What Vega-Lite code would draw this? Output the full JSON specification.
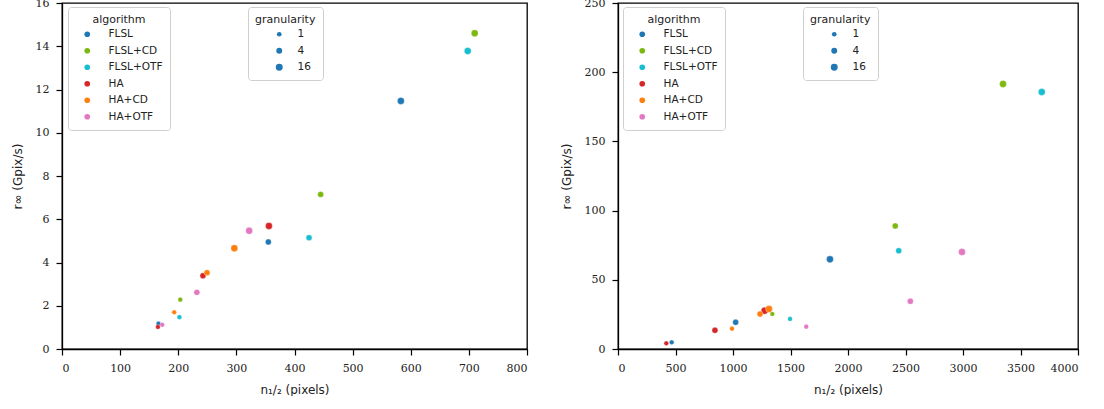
{
  "$schema": "https://vega.github.io/schema/vega-lite/v6.json",
  "padding": {"left": 10, "top": -4, "right": 5, "bottom": 0},
  "background": "white",
  "datasets": {
    "left": [
      {"algorithm": "FLSL", "granularity": 1, "n_half": 166, "r_inf": 1.17},
      {"algorithm": "FLSL", "granularity": 4, "n_half": 355, "r_inf": 4.95},
      {"algorithm": "FLSL", "granularity": 16, "n_half": 583, "r_inf": 11.47},
      {"algorithm": "FLSL+CD", "granularity": 1, "n_half": 203.5, "r_inf": 2.28},
      {"algorithm": "FLSL+CD", "granularity": 4, "n_half": 445, "r_inf": 7.15},
      {"algorithm": "FLSL+CD", "granularity": 16, "n_half": 710, "r_inf": 14.6},
      {"algorithm": "FLSL+OTF", "granularity": 1, "n_half": 202, "r_inf": 1.47},
      {"algorithm": "FLSL+OTF", "granularity": 4, "n_half": 425, "r_inf": 5.15},
      {"algorithm": "FLSL+OTF", "granularity": 16, "n_half": 698, "r_inf": 13.78},
      {"algorithm": "HA", "granularity": 1, "n_half": 165, "r_inf": 1.02},
      {"algorithm": "HA", "granularity": 4, "n_half": 242.5, "r_inf": 3.39},
      {"algorithm": "HA", "granularity": 16, "n_half": 356, "r_inf": 5.69},
      {"algorithm": "HA+CD", "granularity": 1, "n_half": 193, "r_inf": 1.7},
      {"algorithm": "HA+CD", "granularity": 4, "n_half": 249.5, "r_inf": 3.53},
      {"algorithm": "HA+CD", "granularity": 16, "n_half": 296.5, "r_inf": 4.66},
      {"algorithm": "HA+OTF", "granularity": 1, "n_half": 172.5, "r_inf": 1.12},
      {"algorithm": "HA+OTF", "granularity": 4, "n_half": 232, "r_inf": 2.62},
      {"algorithm": "HA+OTF", "granularity": 16, "n_half": 322, "r_inf": 5.47}
    ],
    "right": [
      {"algorithm": "FLSL", "granularity": 1, "n_half": 467, "r_inf": 4.8},
      {"algorithm": "FLSL", "granularity": 4, "n_half": 1023, "r_inf": 19.3},
      {"algorithm": "FLSL", "granularity": 16, "n_half": 1843, "r_inf": 64.8},
      {"algorithm": "FLSL+CD", "granularity": 1, "n_half": 1342, "r_inf": 25.3},
      {"algorithm": "FLSL+CD", "granularity": 4, "n_half": 2411, "r_inf": 88.9},
      {"algorithm": "FLSL+CD", "granularity": 16, "n_half": 3348, "r_inf": 191.5},
      {"algorithm": "FLSL+OTF", "granularity": 1, "n_half": 1496, "r_inf": 21.7},
      {"algorithm": "FLSL+OTF", "granularity": 4, "n_half": 2441, "r_inf": 71},
      {"algorithm": "FLSL+OTF", "granularity": 16, "n_half": 3685, "r_inf": 185.7},
      {"algorithm": "HA", "granularity": 1, "n_half": 420, "r_inf": 4.1},
      {"algorithm": "HA", "granularity": 4, "n_half": 843, "r_inf": 13.5},
      {"algorithm": "HA", "granularity": 16, "n_half": 1275, "r_inf": 27.7},
      {"algorithm": "HA+CD", "granularity": 1, "n_half": 991, "r_inf": 14.7},
      {"algorithm": "HA+CD", "granularity": 4, "n_half": 1235, "r_inf": 25.3},
      {"algorithm": "HA+CD", "granularity": 16, "n_half": 1313, "r_inf": 28.9},
      {"algorithm": "HA+OTF", "granularity": 1, "n_half": 1637, "r_inf": 16.1},
      {"algorithm": "HA+OTF", "granularity": 4, "n_half": 2542, "r_inf": 34.5},
      {"algorithm": "HA+OTF", "granularity": 16, "n_half": 2991, "r_inf": 70.1}
    ]
  },
  "spacing": 91,
  "bounds": "flush",
  "resolve": {
    "scale": {"color": "independent", "size": "independent", "x": "independent", "y": "independent"},
    "legend": {"color": "independent", "size": "independent"}
  },
  "hconcat": [
    {
      "width": 465,
      "height": 346,
      "data": {"name": "left"},
      "mark": {"type": "point", "filled": true, "opacity": 1, "stroke": "white", "strokeWidth": 0.3, "strokeOpacity": 1},
      "encoding": {
        "x": {"field": "n_half", "type": "quantitative", "title": "n₁/₂ (pixels)",
              "scale": {"domain": [0, 800], "nice": false},
              "axis": {"values": [0, 100, 200, 300, 400, 500, 600, 700, 800], "format": "d"}},
        "y": {"field": "r_inf", "type": "quantitative", "title": "r∞ (Gpix/s)",
              "scale": {"domain": [0, 16], "nice": false},
              "axis": {"values": [0, 2, 4, 6, 8, 10, 12, 14, 16], "format": "d"}},
        "color": {"field": "algorithm", "type": "nominal",
                  "scale": {"domain": ["FLSL", "FLSL+CD", "FLSL+OTF", "HA", "HA+CD", "HA+OTF"],
                            "range": ["#1f77b4", "#7cb80f", "#17becf", "#d62728", "#ff7f0e", "#e377c2"]},
                  "legend": {"orient": "none", "legendX": 6, "legendY": 4, "titleAnchor": "middle",
                             "symbolSize": 32, "symbolOffset": 7, "labelOffset": 16,
                             "labelExpr": "datum.label + '\u00a0\u00a0\u00a0\u00a0\u00a0\u00a0\u00a0'"}},
        "size": {"field": "granularity", "type": "ordinal",
                 "scale": {"domain": [1, 4, 16], "range": [22, 48, 110]},
                 "legend": {"orient": "none", "legendX": 186, "legendY": 4, "titleAnchor": "start",
                            "symbolOffset": 19, "labelOffset": 13, "symbolFillColor": "#1f77b4",
                            "labelExpr": "datum.label + '\u00a0\u00a0\u00a0\u00a0\u00a0\u00a0'"}}
      }
    },
    {
      "width": 460,
      "height": 346,
      "data": {"name": "right"},
      "mark": {"type": "point", "filled": true, "opacity": 1, "stroke": "white", "strokeWidth": 0.3, "strokeOpacity": 1},
      "encoding": {
        "x": {"field": "n_half", "type": "quantitative", "title": "n₁/₂ (pixels)",
              "scale": {"domain": [0, 4000], "nice": false},
              "axis": {"values": [0, 500, 1000, 1500, 2000, 2500, 3000, 3500, 4000], "format": "d"}},
        "y": {"field": "r_inf", "type": "quantitative", "title": "r∞ (Gpix/s)",
              "scale": {"domain": [0, 250], "nice": false},
              "axis": {"values": [0, 50, 100, 150, 200, 250], "format": "d"}},
        "color": {"field": "algorithm", "type": "nominal",
                  "scale": {"domain": ["FLSL", "FLSL+CD", "FLSL+OTF", "HA", "HA+CD", "HA+OTF"],
                            "range": ["#1f77b4", "#7cb80f", "#17becf", "#d62728", "#ff7f0e", "#e377c2"]},
                  "legend": {"orient": "none", "legendX": 5, "legendY": 4, "titleAnchor": "middle",
                             "symbolSize": 32, "symbolOffset": 7, "labelOffset": 16,
                             "labelExpr": "datum.label + '\u00a0\u00a0\u00a0\u00a0\u00a0\u00a0\u00a0'"}},
        "size": {"field": "granularity", "type": "ordinal",
                 "scale": {"domain": [1, 4, 16], "range": [22, 48, 110]},
                 "legend": {"orient": "none", "legendX": 185, "legendY": 4, "titleAnchor": "start",
                            "symbolOffset": 19, "labelOffset": 13, "symbolFillColor": "#1f77b4",
                            "labelExpr": "datum.label + '\u00a0\u00a0\u00a0\u00a0\u00a0\u00a0'"}}
      }
    }
  ],
  "config": {
    "view": {"stroke": "black", "strokeWidth": 1.3},
    "axis": {
      "grid": false,
      "domainColor": "black",
      "domainWidth": 1.3,
      "tickColor": "black",
      "tickWidth": 1.2,
      "tickSize": 6,
      "labelFont": "DejaVu Serif",
      "labelFontSize": 11,
      "labelColor": "#222222",
      "labelPadding": 7,
      "titleFont": "DejaVu Sans",
      "titleFontSize": 12,
      "titleFontWeight": "normal",
      "titleColor": "#222222",
      "titlePadding": 11
    },
    "legend": {
      "strokeColor": "#cfcfcf",
      "fillColor": "white",
      "cornerRadius": 3,
      "padding": 7,
      "labelFont": "DejaVu Sans",
      "labelFontSize": 10.5,
      "labelColor": "#222222",
      "titleFont": "DejaVu Sans",
      "titleFontSize": 11,
      "titleFontWeight": "normal",
      "titleColor": "#222222",
      "titlePadding": 4,
      "rowPadding": 5.5,
      "symbolStrokeWidth": 0
    }
  }
}
